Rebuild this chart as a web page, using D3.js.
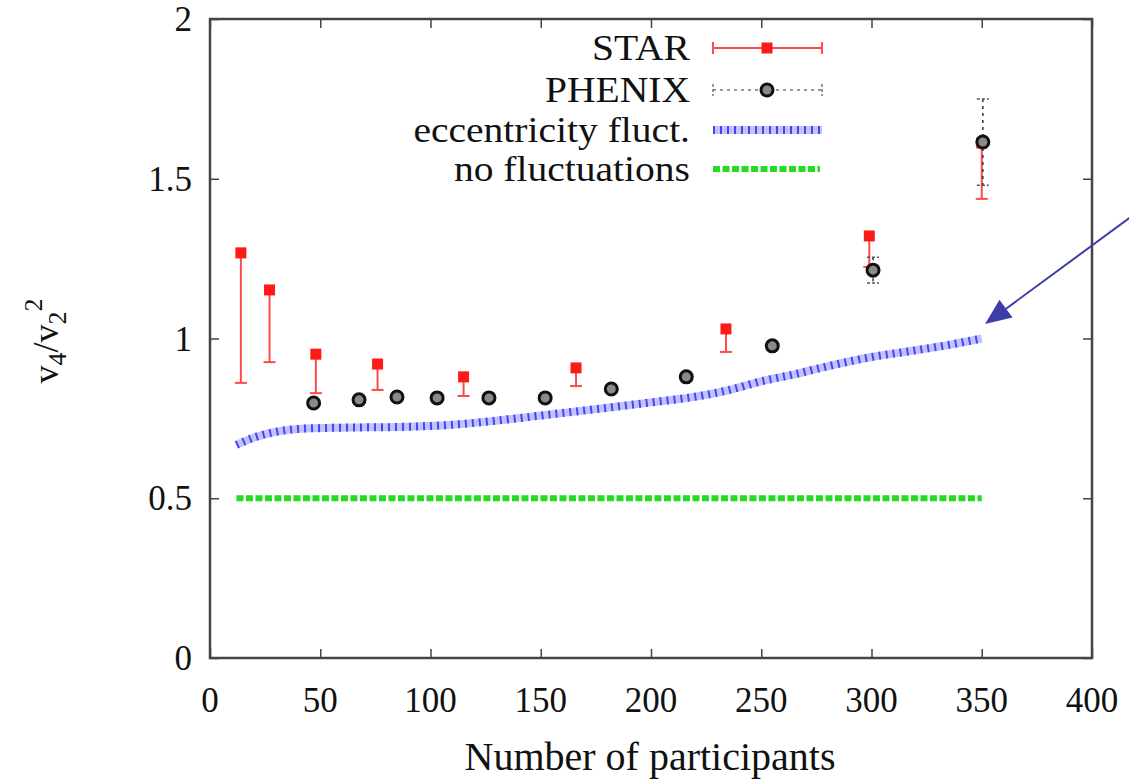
<!DOCTYPE html>
<html>
<head>
<meta charset="utf-8">
<script src="https://cdn.jsdelivr.net/npm/d3@7"></script>
<style>
  body { margin: 0; background: #fff; }
  text { font-family: "Liberation Serif", "Times New Roman", serif; fill: #111; }
</style>
</head>
<body>
<div class="canvas"></div>
<script>
// data
const starX   = [14, 27, 48, 76, 115, 166, 234, 299, 350];
const starY   = [1.268, 1.152, 0.951, 0.92, 0.88, 0.908, 1.03, 1.321, 1.612];
const starLow = [0.861, 0.926, 0.829, 0.839, 0.82, 0.851, 0.958, 1.224, 1.437];

const phenixX   = [47, 67.6, 84.8, 103, 126.5, 152, 182, 216, 255, 300.7, 350.5];
const phenixY   = [0.798, 0.808, 0.817, 0.814, 0.814, 0.814, 0.842, 0.88, 0.977, 1.214, 1.615];
const phenixErr = [0.01, 0.01, 0.01, 0.01, 0.01, 0.01, 0.01, 0.01, 0.012, 0.04, 0.135];

const eccX = [12, 20, 30, 40, 60, 85, 110, 130, 155, 180, 200, 222, 235, 250, 265, 280, 300, 320, 335, 350];
const eccY = [0.667, 0.69, 0.708, 0.717, 0.721, 0.723, 0.73, 0.743, 0.763, 0.783, 0.8, 0.82, 0.838, 0.866, 0.888, 0.913, 0.942, 0.963, 0.98, 1.0];

const noFlucX = [12, 350];
const noFlucY = [0.5, 0.5];

const xTicks = [0, 50, 100, 150, 200, 250, 300, 350, 400];
const yTicks = [0, 0.5, 1, 1.5, 2];
const legendLabels = ['STAR', 'PHENIX', 'eccentricity fluct.', 'no fluctuations'];

const dims = {width: 1129, height: 779};
const m = {left: 210, top: 19, right: 37, bottom: 121};
const w = dims.width - m.left - m.right;
const h = dims.height - m.top - m.bottom;

const svg = d3.select('.canvas').append('svg')
  .attr('width', dims.width)
  .attr('height', dims.height);

const g = svg.append('g').attr('transform', `translate(${m.left},${m.top})`);

const x = d3.scaleLinear().domain([0, 400]).range([0, w]);
const y = d3.scaleLinear().domain([0, 2]).range([h, 0]);

// frame + mirrored inward ticks
const frameCol = '#444';
const tickLen = 9;
g.append('g').attr('transform', `translate(0,${h})`)
  .call(d3.axisBottom(x).tickValues(xTicks).tickSize(-tickLen).tickFormat(''));
g.append('g')
  .call(d3.axisTop(x).tickValues(xTicks).tickSize(-tickLen).tickFormat(''));
g.append('g')
  .call(d3.axisLeft(y).tickValues(yTicks).tickSize(-tickLen).tickFormat(''));
g.append('g').attr('transform', `translate(${w},0)`)
  .call(d3.axisRight(y).tickValues(yTicks).tickSize(-tickLen).tickFormat(''));
g.selectAll('.domain').remove();
g.selectAll('.tick line').attr('stroke', frameCol).attr('stroke-width', 1.5);
g.append('rect').attr('width', w).attr('height', h)
  .attr('fill', 'none').attr('stroke', frameCol).attr('stroke-width', 2.5);

// tick labels
g.selectAll('.xlab').data(xTicks).enter().append('text')
  .attr('x', d => x(d)).attr('y', h + 54)
  .attr('text-anchor', 'middle').attr('font-size', 35)
  .text(d => d);
g.selectAll('.ylab').data(yTicks).enter().append('text')
  .attr('x', -18).attr('y', d => y(d) + 12)
  .attr('text-anchor', 'end').attr('font-size', 35)
  .text(d => d);

// axis titles
svg.append('text').attr('x', 650).attr('y', 770)
  .attr('text-anchor', 'middle').attr('font-size', 40)
  .text('Number of participants');

const yt = svg.append('text')
  .attr('transform', 'translate(58,341) rotate(-90)')
  .attr('text-anchor', 'middle').attr('font-size', 36);
yt.append('tspan').text('v');
yt.append('tspan').attr('font-size', 26).attr('dy', 8).text('4');
yt.append('tspan').attr('dy', -8).text('/v');
yt.append('tspan').attr('font-size', 26).attr('dy', 8).text('2');
yt.append('tspan').attr('font-size', 26).attr('dy', -24).text('2');

// no fluctuations
const line = d3.line().x(d => x(d[0])).y(d => y(d[1]));
g.append('path').datum(d3.zip(noFlucX, noFlucY))
  .attr('d', line).attr('fill', 'none')
  .attr('stroke', '#22dd22').attr('stroke-width', 6).attr('stroke-dasharray', '7,2.5');

// eccentricity fluct.
const curve = d3.line().x(d => x(d[0])).y(d => y(d[1])).curve(d3.curveMonotoneX);
const eccData = d3.zip(eccX, eccY);
g.append('path').datum(eccData).attr('d', curve).attr('fill', 'none')
  .attr('stroke', '#c2c2ff').attr('stroke-width', 8);
g.append('path').datum(eccData).attr('d', curve).attr('fill', 'none')
  .attr('stroke', '#4545f5').attr('stroke-width', 8).attr('stroke-dasharray', '2,5');

// STAR
const star = d3.range(starX.length).map(i => ({x: starX[i], y: starY[i], lo: starLow[i]}));
const sg = g.selectAll('.star').data(star).enter().append('g');
sg.append('line')
  .attr('x1', d => x(d.x)).attr('x2', d => x(d.x))
  .attr('y1', d => y(d.y)).attr('y2', d => y(d.lo))
  .attr('stroke', '#ff4a4a').attr('stroke-width', 2);
sg.append('line')
  .attr('x1', d => x(d.x) - 6).attr('x2', d => x(d.x) + 6)
  .attr('y1', d => y(d.lo)).attr('y2', d => y(d.lo))
  .attr('stroke', '#ff4a4a').attr('stroke-width', 2);
sg.append('rect')
  .attr('x', d => x(d.x) - 5.5).attr('y', d => y(d.y) - 5.5)
  .attr('width', 11).attr('height', 11).attr('fill', '#ff1a1a');

// PHENIX
const phe = d3.range(phenixX.length).map(i => ({x: phenixX[i], y: phenixY[i], e: phenixErr[i]}));
const pg = g.selectAll('.phe').data(phe).enter().append('g');
pg.append('line')
  .attr('x1', d => x(d.x)).attr('x2', d => x(d.x))
  .attr('y1', d => y(d.y + d.e)).attr('y2', d => y(d.y - d.e))
  .attr('stroke', '#333').attr('stroke-width', 1.5).attr('stroke-dasharray', '3,4');
pg.selectAll('.cap').data(d => [[d.x, d.y + d.e], [d.x, d.y - d.e]]).enter().append('line')
  .attr('x1', d => x(d[0]) - 6).attr('x2', d => x(d[0]) + 6)
  .attr('y1', d => y(d[1])).attr('y2', d => y(d[1]))
  .attr('stroke', '#555').attr('stroke-width', 1.5).attr('stroke-dasharray', '3,2');
pg.append('circle')
  .attr('cx', d => x(d.x)).attr('cy', d => y(d.y)).attr('r', 6)
  .attr('fill', '#8a8a8a').attr('stroke', '#111').attr('stroke-width', 3);

// legend (text slightly widened so rows do not collide)
const leg = svg.append('g');
const rowY = [48, 90, 130, 169];
const lx0 = 713, lx1 = 822, lmid = 767;
leg.selectAll('text').data(legendLabels).enter().append('text')
  .attr('transform', (d, i) => `translate(690,${rowY[i] + 12}) scale(1.13,1)`)
  .attr('text-anchor', 'end').attr('font-size', 35)
  .text(d => d);
// STAR sample
leg.append('line').attr('x1', lx0).attr('x2', lx1).attr('y1', rowY[0]).attr('y2', rowY[0])
  .attr('stroke', '#ff4a4a').attr('stroke-width', 2);
[lx0, lx1].forEach(px => leg.append('line').attr('x1', px).attr('x2', px)
  .attr('y1', rowY[0] - 6).attr('y2', rowY[0] + 6).attr('stroke', '#ff4a4a').attr('stroke-width', 2));
leg.append('rect').attr('x', lmid - 5.5).attr('y', rowY[0] - 5.5).attr('width', 11).attr('height', 11).attr('fill', '#ff1a1a');
// PHENIX sample
leg.append('line').attr('x1', lx0).attr('x2', lx1).attr('y1', rowY[1]).attr('y2', rowY[1])
  .attr('stroke', '#777').attr('stroke-width', 1.5).attr('stroke-dasharray', '3,4');
[lx0, lx1].forEach(px => leg.append('line').attr('x1', px).attr('x2', px)
  .attr('y1', rowY[1] - 6).attr('y2', rowY[1] + 6).attr('stroke', '#777').attr('stroke-width', 1.5).attr('stroke-dasharray', '3,2'));
leg.append('circle').attr('cx', lmid).attr('cy', rowY[1]).attr('r', 6)
  .attr('fill', '#8a8a8a').attr('stroke', '#111').attr('stroke-width', 3);
// eccentricity sample
leg.append('line').attr('x1', lx0).attr('x2', lx1).attr('y1', rowY[2]).attr('y2', rowY[2])
  .attr('stroke', '#c2c2ff').attr('stroke-width', 8);
leg.append('line').attr('x1', lx0).attr('x2', lx1).attr('y1', rowY[2]).attr('y2', rowY[2])
  .attr('stroke', '#4545f5').attr('stroke-width', 8).attr('stroke-dasharray', '2,5');
// no fluct sample
leg.append('line').attr('x1', lx0).attr('x2', lx1 - 2).attr('y1', rowY[3]).attr('y2', rowY[3])
  .attr('stroke', '#22dd22').attr('stroke-width', 6).attr('stroke-dasharray', '7,2.5');

// annotation arrow pointing at end of the eccentricity curve
const tip = [x(351.5), y(1.045)];
const tail = [x(419.5), y(1.39)];
const ang = Math.atan2(tail[1] - tip[1], tail[0] - tip[0]);
const aLen = 26, aW = 11;
const bx = tip[0] + aLen * Math.cos(ang), by = tip[1] + aLen * Math.sin(ang);
g.append('line').attr('x1', tail[0]).attr('y1', tail[1]).attr('x2', bx).attr('y2', by)
  .attr('stroke', '#3d3daa').attr('stroke-width', 2);
g.append('path')
  .attr('d', `M${tip[0]},${tip[1]}L${bx - aW * Math.sin(ang)},${by + aW * Math.cos(ang)}L${bx + aW * Math.sin(ang)},${by - aW * Math.cos(ang)}Z`)
  .attr('fill', '#3d3daa');
</script>
</body>
</html>
